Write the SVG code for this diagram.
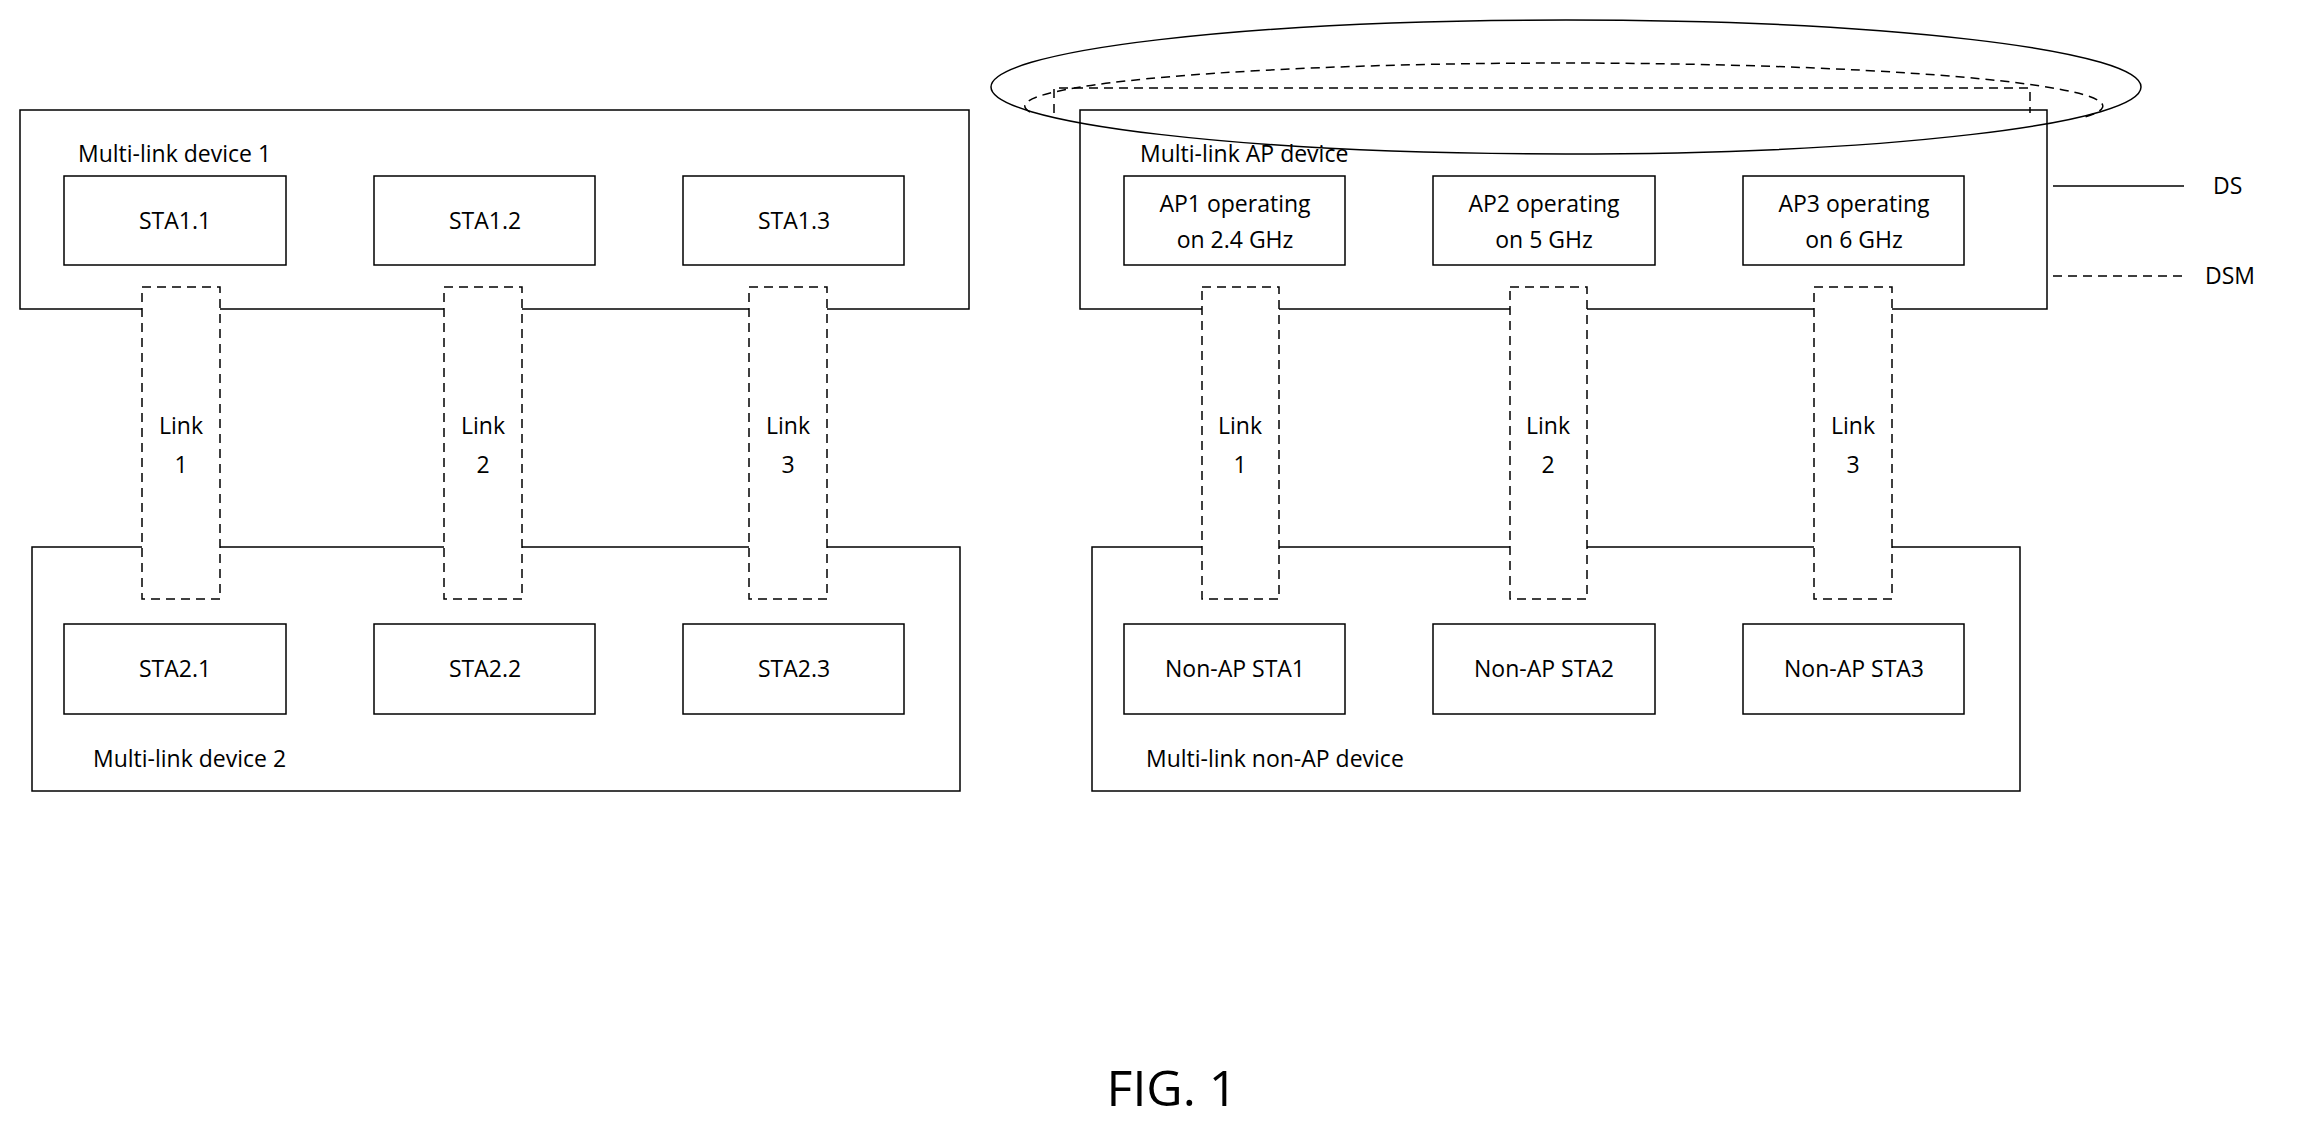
<svg xmlns="http://www.w3.org/2000/svg" width="2298" height="1131" viewBox="0 0 2298 1131">
<style>
.box{fill:none;stroke:#000;stroke-width:1.5}
.link{fill:#fff;stroke:#000;stroke-width:1.5;stroke-dasharray:9 6}
.dash{fill:none;stroke:#000;stroke-width:1.5;stroke-dasharray:9 6}
text{font-family:"Open Sans","Liberation Sans",sans-serif;font-size:23px;fill:#000}
.c{text-anchor:middle}
</style>
<rect width="2298" height="1131" fill="#fff"/>
<g id="dev1"><rect class="box" x="20" y="110" width="949" height="199"/><text x="78" y="162">Multi-link device 1</text></g>
<g id="dev2"><rect class="box" x="32" y="547" width="928" height="244"/><text x="93" y="767">Multi-link device 2</text></g>
<g id="apdev"><rect class="box" x="1080" y="110" width="967" height="199"/><text x="1140" y="162">Multi-link AP device</text></g>
<g id="nonapdev"><rect class="box" x="1092" y="547" width="928" height="244"/><text x="1146" y="767">Multi-link non-AP device</text></g>
<g id="sta11"><rect class="box" x="64" y="176" width="222" height="89"/><text class="c" x="175" y="229">STA1.1</text></g>
<g id="sta12"><rect class="box" x="374" y="176" width="221" height="89"/><text class="c" x="485" y="229">STA1.2</text></g>
<g id="sta13"><rect class="box" x="683" y="176" width="221" height="89"/><text class="c" x="794" y="229">STA1.3</text></g>
<g id="sta21"><rect class="box" x="64" y="624" width="222" height="90"/><text class="c" x="175" y="677">STA2.1</text></g>
<g id="sta22"><rect class="box" x="374" y="624" width="221" height="90"/><text class="c" x="485" y="677">STA2.2</text></g>
<g id="sta23"><rect class="box" x="683" y="624" width="221" height="90"/><text class="c" x="794" y="677">STA2.3</text></g>
<g id="ap1"><rect class="box" x="1124" y="176" width="221" height="89"/><text class="c" x="1235" y="212">AP1 operating</text><text class="c" x="1235" y="248">on 2.4 GHz</text></g>
<g id="ap2"><rect class="box" x="1433" y="176" width="222" height="89"/><text class="c" x="1544" y="212">AP2 operating</text><text class="c" x="1544" y="248">on 5 GHz</text></g>
<g id="ap3"><rect class="box" x="1743" y="176" width="221" height="89"/><text class="c" x="1854" y="212">AP3 operating</text><text class="c" x="1854" y="248">on 6 GHz</text></g>
<g id="nsta1"><rect class="box" x="1124" y="624" width="221" height="90"/><text class="c" x="1235" y="677">Non-AP STA1</text></g>
<g id="nsta2"><rect class="box" x="1433" y="624" width="222" height="90"/><text class="c" x="1544" y="677">Non-AP STA2</text></g>
<g id="nsta3"><rect class="box" x="1743" y="624" width="221" height="90"/><text class="c" x="1854" y="677">Non-AP STA3</text></g>
<g id="connectors">
<g id="l1"><rect class="link" x="142" y="287" width="78" height="312"/><text class="c" x="181" y="434">Link</text><text class="c" x="181" y="473">1</text></g>
<g id="l2"><rect class="link" x="444" y="287" width="78" height="312"/><text class="c" x="483" y="434">Link</text><text class="c" x="483" y="473">2</text></g>
<g id="l3"><rect class="link" x="749" y="287" width="78" height="312"/><text class="c" x="788" y="434">Link</text><text class="c" x="788" y="473">3</text></g>
<g id="l4"><rect class="link" x="1202" y="287" width="77" height="312"/><text class="c" x="1240" y="434">Link</text><text class="c" x="1240" y="473">1</text></g>
<g id="l5"><rect class="link" x="1510" y="287" width="77" height="312"/><text class="c" x="1548" y="434">Link</text><text class="c" x="1548" y="473">2</text></g>
<g id="l6"><rect class="link" x="1814" y="287" width="78" height="312"/><text class="c" x="1853" y="434">Link</text><text class="c" x="1853" y="473">3</text></g>
</g>
<g id="ds">
<ellipse class="box" cx="1566" cy="87" rx="575" ry="67"/>
<path class="dash" d="M1030,112 A539,43 0 1 1 2085,117"/>
<path class="dash" d="M1054,113 L1054,88 L2030,88 L2030,113"/>
</g>
<g id="legend">
<line class="box" x1="2053" y1="186" x2="2184" y2="186"/><text x="2213" y="194">DS</text>
<line class="dash" x1="2053" y1="276" x2="2184" y2="276"/><text x="2205" y="284">DSM</text>
</g>
<text class="c" x="1172" y="1106" style="font-size:50px">FIG. 1</text>
</svg>
